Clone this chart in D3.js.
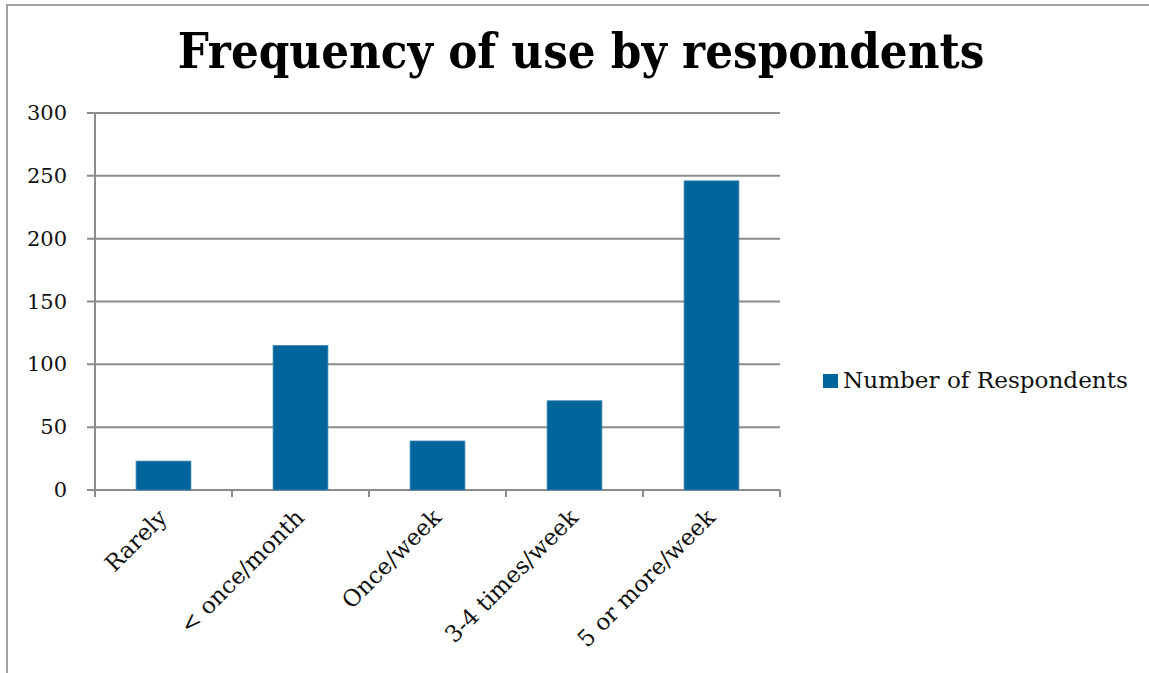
<!DOCTYPE html>
<html>
<head>
<meta charset="utf-8">
<script src="https://cdn.jsdelivr.net/npm/d3@7"></script>
<style>
  body { margin: 0; background: #fff; }
  svg { display: block; }
</style>
</head>
<body>
<script>
const categories = ["Rarely", "< once/month", "Once/week", "3-4 times/week", "5 or more/week"]
const values = [23, 115, 39, 71, 246]
const yTicks = [0, 50, 100, 150, 200, 250, 300]
const seriesName = "Number of Respondents"
const titleText = "Frequency of use by respondents"

const width = 1149
const height = 673
const barColor = "#00659a"
const gridColor = "#8c8c8c"
const serif = "'DejaVu Serif', 'Liberation Serif', serif"

const margin = { top: 113, left: 95, right: 369, bottom: 183 }

const svg = d3.select("body").append("svg")
    .attr("width", width)
    .attr("height", height)

// marco exterior
svg.append("rect")
    .attr("x", 7)
    .attr("y", 5)
    .attr("width", width + 10)
    .attr("height", height + 10)
    .attr("fill", "none")
    .attr("stroke", "#a0a0a0")
    .attr("stroke-width", 2)

const x = d3.scaleBand()
    .domain(categories)
    .range([margin.left, width - margin.right])

const y = d3.scaleLinear()
    .domain([0, 300])
    .range([height - margin.bottom, margin.top])

// ajusta el texto a un ancho dado
function fitWidth(sel, target) {
    const w = sel.node().getComputedTextLength()
    const fs = parseFloat(sel.attr("font-size"))
    sel.attr("font-size", fs * target / w)
}

const title = svg.append("text")
    .attr("x", 581)
    .attr("y", 68)
    .attr("text-anchor", "middle")
    .attr("font-family", "'DejaVu Serif Condensed', 'DejaVu Serif', serif")
    .attr("font-weight", "bold")
    .attr("font-size", 44)
    .text(titleText)
fitWidth(title, 807)

// cuadricula
svg.append("g")
    .selectAll("line")
    .data(yTicks)
    .enter()
    .append("line")
    .attr("x1", margin.left - 8)
    .attr("x2", width - margin.right)
    .attr("y1", (d) => y(d))
    .attr("y2", (d) => y(d))
    .attr("stroke", gridColor)
    .attr("stroke-width", 2)

// eje Y
svg.append("line")
    .attr("x1", margin.left)
    .attr("x2", margin.left)
    .attr("y1", y(300))
    .attr("y2", y(0) + 7)
    .attr("stroke", gridColor)
    .attr("stroke-width", 2)

svg.append("g")
    .selectAll("text")
    .data(yTicks)
    .enter()
    .append("text")
    .attr("x", 67)
    .attr("y", (d) => y(d))
    .attr("text-anchor", "end")
    .attr("dominant-baseline", "central")
    .attr("font-family", serif)
    .attr("font-size", 21)
    .attr("fill", "#111")
    .text((d) => d)

// marcas del eje X
const xTickPos = categories.map((c) => x(c)).concat([x.range()[1]])
svg.append("g")
    .selectAll("line")
    .data(xTickPos)
    .enter()
    .append("line")
    .attr("x1", (d) => d)
    .attr("x2", (d) => d)
    .attr("y1", y(0))
    .attr("y2", y(0) + 7)
    .attr("stroke", gridColor)
    .attr("stroke-width", 2)

// barras
const barW = x.bandwidth() * 0.4
svg.append("g")
    .selectAll("rect")
    .data(values)
    .enter()
    .append("rect")
    .attr("x", (d, i) => x(categories[i]) + (x.bandwidth() - barW) / 2)
    .attr("y", (d) => y(d))
    .attr("width", barW)
    .attr("height", (d) => y(0) - y(d))
    .attr("fill", barColor)
    .attr("stroke", "#3b86b3")
    .attr("stroke-width", 0.8)

// etiquetas X
svg.append("g")
    .selectAll("text")
    .data(categories)
    .enter()
    .append("text")
    .attr("text-anchor", "end")
    .attr("transform", (d) => `translate(${x(d) + x.bandwidth() / 2 + 5} ${y(0) + 29}) rotate(-45)`)
    .attr("font-family", serif)
    .attr("font-size", 23)
    .attr("fill", "#111")
    .text((d) => d)

// leyenda
const legend = svg.append("g").attr("transform", "translate(823 374)")
legend.append("rect")
    .attr("width", 15)
    .attr("height", 14)
    .attr("fill", barColor)
const legendText = legend.append("text")
    .attr("x", 20)
    .attr("y", 14)
    .attr("font-family", serif)
    .attr("font-size", 21)
    .attr("fill", "#111")
    .text(seriesName)
fitWidth(legendText, 285)
</script>
</body>
</html>
